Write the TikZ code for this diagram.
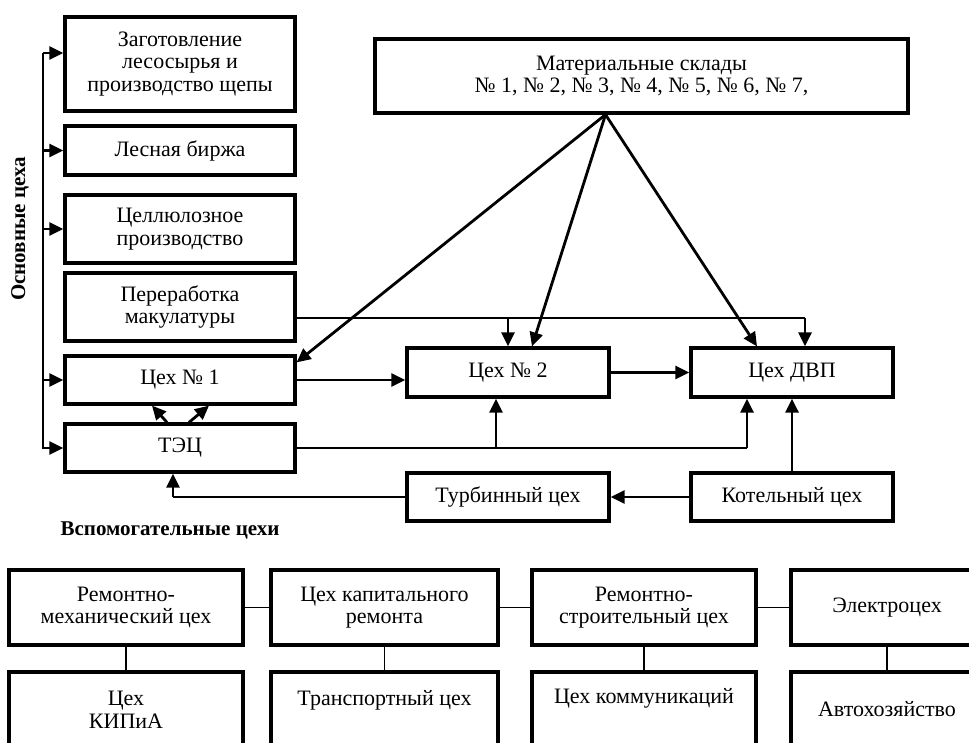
\documentclass[tikz,border=0pt]{standalone}
\usepackage{fontspec}
\setmainfont{Liberation Serif}
\usetikzlibrary{arrows.meta}

\begin{document}
\begin{tikzpicture}[x=0.5pt, y=-0.5pt,
  caixa/.style={draw, line width=1.6pt, align=center, inner sep=2pt,
    font=\fontsize{11}{11.3}\selectfont},
  seta/.style={-{Triangle[length=7pt,width=6.5pt]}, line width=1.4pt},
  fina/.style={line width=0.6pt},
  titulo/.style={font=\fontsize{10.5}{12}\selectfont\bfseries}]
  \clip (0,0) rectangle (969,743);
  % Cabeçalhos
  \node[titulo, rotate=90] (osn) at (20,229) {Основные цеха};
  \node[titulo] (vsp) at (170,530) {Вспомогательные цехи};
  % Coluna da esquerda
  \node[caixa, minimum width=115pt, minimum height=47pt] (zag) at (180,64) {Заготовление\\лесосырья и\\производство щепы};
  \node[caixa, minimum width=115pt, minimum height=24.5pt] (birzha) at (180,150.5) {Лесная биржа};
  \node[caixa, minimum width=115pt, minimum height=34pt] (cell) at (180,229) {Целлюлозное\\производство};
  \node[caixa, minimum width=115pt, minimum height=34pt] (makul) at (180,307) {Переработка\\макулатуры};
  \node[caixa, minimum width=115pt, minimum height=24pt] (ceh1) at (180,380) {Цех № 1};
  \node[caixa, minimum width=115pt, minimum height=24pt] (tec) at (180,448) {ТЭЦ};
  % Centro e direita
  \node[caixa, minimum width=266.5pt, minimum height=37pt] (mat) at (641.5,76) {Материальные склады\\№ 1, № 2, № 3, № 4, № 5, № 6, № 7,};
  \node[caixa, minimum width=101pt, minimum height=24.5pt] (ceh2) at (508,372.5) {Цех № 2};
  \node[caixa, minimum width=101pt, minimum height=24.5pt] (dvp) at (792,372.5) {Цех ДВП};
  \node[caixa, minimum width=101pt, minimum height=24pt] (turb) at (508,497) {Турбинный цех};
  \node[caixa, minimum width=101pt, minimum height=24pt] (kotel) at (792,497) {Котельный цех};
  % Cehi auxiliares
  \node[caixa, minimum width=117pt, minimum height=37.5pt] (rm) at (126,607.5) {Ремонтно-\\механический цех};
  \node[caixa, minimum width=113.5pt, minimum height=37.5pt] (kr) at (384.5,607.5) {Цех капитального\\ремонта};
  \node[caixa, minimum width=112pt, minimum height=37.5pt] (rs) at (644,607.5) {Ремонтно-\\строительный цех};
  \node[caixa, minimum width=96pt, minimum height=37.5pt] (el) at (887,607.5) {Электроцех};
  \node[caixa, minimum width=117pt, minimum height=37.5pt] (kip) at (126,709.5) {Цех\\КИПиА};
  \node[caixa, minimum width=113.5pt, minimum height=37.5pt] (tr) at (384.5,709.5) {Транспортный цех\\\phantom{Т}};
  \node[caixa, minimum width=112pt, minimum height=37.5pt] (kom) at (644,709.5) {Цех коммуникаций\\\phantom{Ц}};
  \node[caixa, minimum width=96pt, minimum height=37.5pt] (avto) at (887,709.5) {Автохозяйство};
  % Barramento da esquerda
  \coordinate (bt) at (43,53);
  \coordinate (bb) at (43,449);
  \draw[line width=0.9pt] (bt) -- (bb);
  \draw[seta] (bt) -- (bt -| zag.west);
  \foreach \n in {birzha, cell, ceh1, tec}
    \draw[seta] (bt |- \n.west) -- (\n.west);
  % Setas dos armazéns
  \coordinate (apex) at ([xshift=-18pt]mat.south);
  \draw[seta] (apex) -- ([yshift=-4pt]ceh1.north east);
  \draw[seta] (apex) -- ([xshift=12pt]ceh2.north);
  \draw[seta] (apex) -- ([xshift=-17.5pt]dvp.north);
  % Macolatura
  \coordinate (m1) at (805,318);
  \draw[fina] (makul.east |- m1) -- (m1);
  \draw[seta] (ceh2.north |- m1) -- (ceh2.north);
  \draw[seta] (m1) -- (m1 |- dvp.north);
  % Fluxo principal
  \draw[seta] (ceh1.east) -- (ceh1.east -| ceh2.west);
  \draw[seta] (ceh2.east) -- (dvp.west);
  % ТЭЦ
  \coordinate (t1) at (747,448);
  \coordinate (t2) at (496,448);
  \draw[fina] (tec.east) -- (t1);
  \draw[seta] (t2) -- (t2 |- ceh2.south);
  \draw[seta] (t1) -- (t1 |- dvp.south);
  \draw[seta] ([xshift=-6.5pt]tec.north) -- ([xshift=-14pt]ceh1.south);
  \draw[seta] ([xshift=4.5pt]tec.north) -- ([xshift=14.5pt]ceh1.south);
  % Caldeira e turbina
  \coordinate (t3) at (173,497);
  \draw[seta] (kotel.west) -- (turb.east);
  \draw[seta] (kotel.north) -- (dvp.south);
  \draw[fina] (turb.west) -- (t3);
  \draw[seta] (t3) -- (t3 |- tec.south);
  % Ligações de baixo
  \draw[fina] (rm.east) -- (kr.west);
  \draw[fina] (kr.east) -- (rs.west);
  \draw[fina] (rs.east) -- (el.west);
  \foreach \a/\b in {rm/kip, kr/tr, rs/kom, el/avto}
    \draw[fina] (\a.south) -- (\b.north);
\end{tikzpicture}
\end{document}
